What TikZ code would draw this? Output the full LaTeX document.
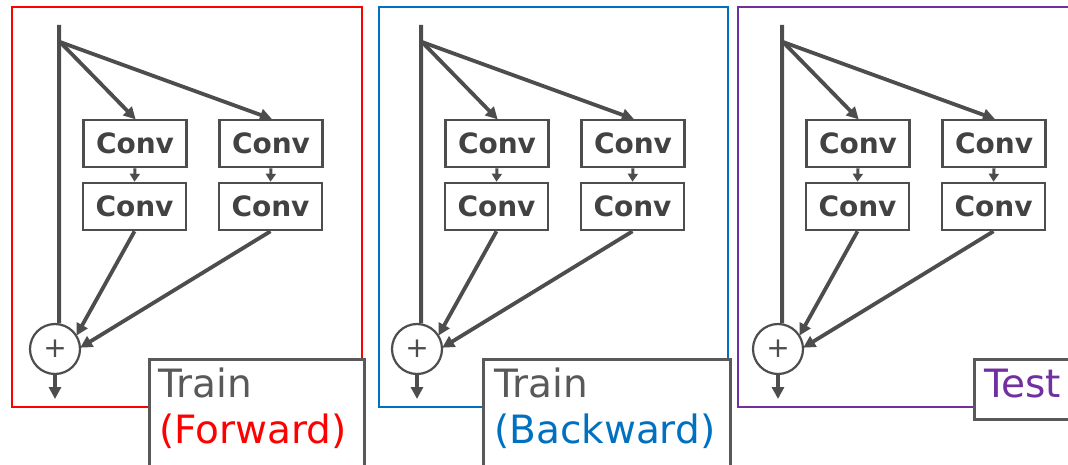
\documentclass[tikz,border=0pt]{standalone}
\usepackage{fontspec}
\setmainfont{DejaVu Sans}
\usetikzlibrary{arrows.meta}

\definecolor{ink}{HTML}{4D4D4D}
\definecolor{labelgray}{HTML}{595959}
\definecolor{fwdred}{HTML}{FF0000}
\definecolor{bwdblue}{HTML}{0070C0}
\definecolor{testpurple}{HTML}{7030A0}

\tikzset{
  conv/.style={draw=ink, line width=2.6pt, fill=white, minimum width=103pt,
    minimum height=47pt, inner sep=0pt, text=ink!85!black,
    font=\fontsize{28}{30}\selectfont\bfseries},
  sumnode/.style={circle, draw=ink, line width=2.2pt, fill=white,
    minimum size=50pt, inner sep=0pt, text=ink,
    font=\fontsize{28}{30}\selectfont},
  trunk/.style={draw=ink, line width=4pt},
  flow/.style={draw=ink, line width=3.8pt,
    -{Triangle[length=12pt,width=12pt]}, shorten >=-1pt},
  shortflow/.style={draw=ink, line width=3pt,
    -{Triangle[length=8pt,width=10pt]}},
  frame/.style={line width=2.8pt},
  tagbox/.style={draw=labelgray, line width=3pt, fill=white},
  tagtext/.style={anchor=base west, inner sep=0pt,
    font=\fontsize{39}{42}\selectfont},
}

% one residual unit: #1 = name prefix, #2 = horizontal offset
\newcommand\resunit[2]{%
  \begin{scope}[shift={(#2,0)}]
    \coordinate (#1top) at (59,25);
    \coordinate (#1fork) at (60,42);
    \node[conv] (#1a1) at (135,143.5) {Conv};
    \node[conv] (#1b1) at (271,143.5) {Conv};
    \node[conv] (#1a2) at (134.5,206.5) {Conv};
    \node[conv] (#1b2) at (270.5,206.5) {Conv};
    \node[sumnode] (#1sum) at (55,349) {+};
    \coordinate (#1out) at (55,398);
    \draw[trunk] (#1top) -- (#1sum.81);
    \draw[flow] (#1fork) -- (#1a1.north);
    \draw[flow] (#1fork) -- (#1b1.north);
    \draw[shortflow] (#1a1.south) -- (#1a2.north);
    \draw[shortflow] (#1b1.south) -- (#1b2.north);
    \draw[flow] (#1a2.south) -- (#1sum.33);
    \draw[flow] (#1b2.south) -- (#1sum.4);
    \draw[flow] (#1sum.south) -- (#1out);
  \end{scope}}

\begin{document}
\begin{tikzpicture}[x=1pt, y=-1pt]
  \useasboundingbox (0,0) rectangle (1068,465);
  \clip (0,0) rectangle (1068,465);

  % panel frames
  \draw[frame, fwdred] (12,7) rectangle (362,407);
  \draw[frame, bwdblue] (379,7) rectangle (728,407);
  \draw[frame, testpurple] (738,7) rectangle (1090,407);

  % the three residual units
  \resunit{f}{0}
  \resunit{b}{362}
  \resunit{t}{723}

  % mode tags
  \node[tagbox, minimum width=215pt, minimum height=120pt, anchor=north west,
    inner sep=0pt] (ftag) at (148,358) {};
  \node[tagtext, text=labelgray] (ftrain) at (158,397) {Train};
  \node[tagtext, text=fwdred] (fmode) at (159,443) {(Forward)};

  \node[tagbox, minimum width=247pt, minimum height=120pt, anchor=north west,
    inner sep=0pt] (btag) at (482,358) {};
  \node[tagtext, text=labelgray] (btrain) at (494,397) {Train};
  \node[tagtext, text=bwdblue] (bmode) at (494,443) {(Backward)};

  \node[tagbox, minimum width=130pt, minimum height=60pt, anchor=north west,
    inner sep=0pt] (ttag) at (973,358) {};
  \node[tagtext, text=testpurple] (ttest) at (984,397) {Test};
\end{tikzpicture}
\end{document}
